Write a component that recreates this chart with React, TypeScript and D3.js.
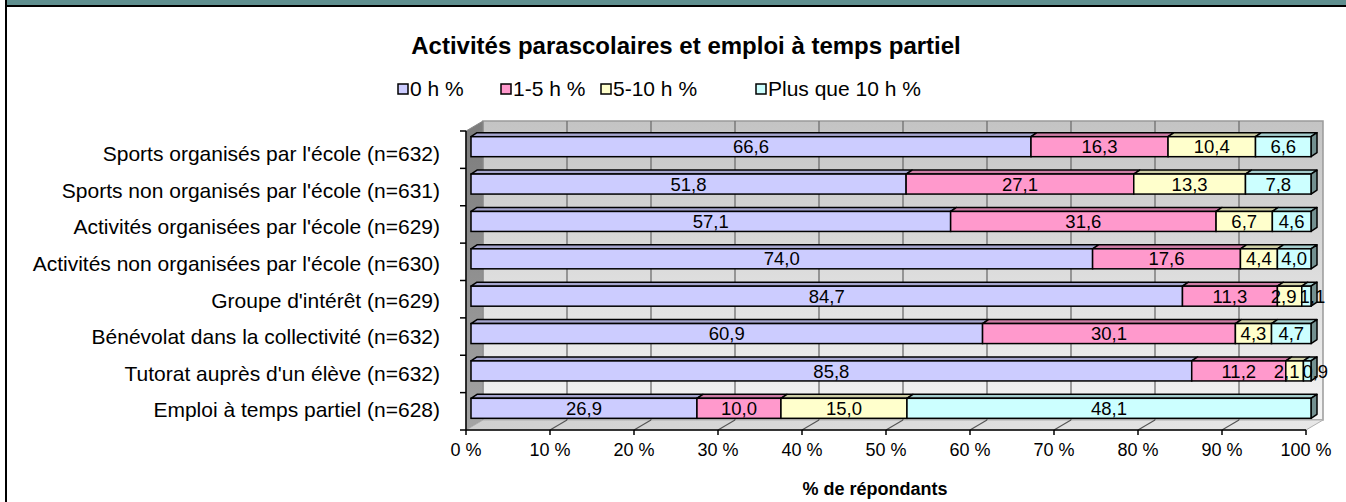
import React from "react";
import * as d3 from "d3";

const categories = [
  "Sports organisés par l'école (n=632)",
  "Sports non organisés par l'école (n=631)",
  "Activités organisées par l'école (n=629)",
  "Activités non organisées par l'école (n=630)",
  "Groupe d'intérêt (n=629)",
  "Bénévolat dans la collectivité (n=632)",
  "Tutorat auprès d'un élève (n=632)",
  "Emploi à temps partiel (n=628)",
];
const seriesNames = ["0 h %", "1-5 h %", "5-10 h %", "Plus que 10 h %"];
const h0 = [66.6, 51.8, 57.1, 74.0, 84.7, 60.9, 85.8, 26.9];
const h1to5 = [16.3, 27.1, 31.6, 17.6, 11.3, 30.1, 11.2, 10.0];
const h5to10 = [10.4, 13.3, 6.7, 4.4, 2.9, 4.3, 2.1, 15.0];
const h10plus = [6.6, 7.8, 4.6, 4.0, 1.1, 4.7, 0.9, 48.1];
const xTicks = [0, 10, 20, 30, 40, 50, 60, 70, 80, 90, 100];

const colors = ["#ccccff", "#ff99cc", "#ffffcc", "#ccffff"];
const legendX = [398, 501, 601, 756];

const W = 1346;
const H = 502;
const FONT = "Arial, 'Liberation Sans', sans-serif";

// 3D geometry
const DEPTH = { dx: 17, dy: -10 };
const BAR_OFF = { dx: 5, dy: -3 };
const BAR_DEPTH = { dx: 6, dy: -4 };
const BAR_H = 20;
const VAL_FS = 18.5;

const fmt = (v: number) => d3.format(".1f")(v).replace(".", ",");
// rough Arial width of a number label
const textW = (s: string) =>
  s.split("").reduce((acc, ch) => acc + (ch === "," ? 0.278 : 0.556), 0) * VAL_FS;

const pts = (p: number[][]) => p.map((q) => q.join(",")).join(" ");

export default function App() {
  const x = d3.scaleLinear().domain([0, 100]).range([466, 1306]);
  const y = d3.scaleBand<string>().domain(categories).range([131, 430]);
  const yLabel = d3.scalePoint<string>().domain(categories).range([154, 410]);
  const top = 131;
  const bottom = 430;

  const rows = categories.map((c, i) => ({
    cat: c,
    [seriesNames[0]]: h0[i],
    [seriesNames[1]]: h1to5[i],
    [seriesNames[2]]: h5to10[i],
    [seriesNames[3]]: h10plus[i],
  }));
  const stacked = d3
    .stack<any>()
    .keys(seriesNames)
    .offset(d3.stackOffsetExpand)(rows);
  const values = [h0, h1to5, h5to10, h10plus];

  const bx = (v: number) => x(v * 100) + BAR_OFF.dx;

  // label positions per row, nudged apart where small segments collide
  const labelPos = categories.map((c, ri) => {
    const items = stacked.map((layer, si) => {
      const [a, b] = layer[ri];
      const s = fmt(values[si][ri]);
      return { s, cx: (bx(a) + bx(b)) / 2, w: textW(s) };
    });
    for (let k = 0; k < 30; k++) {
      for (let i = 0; i < items.length - 1; i++) {
        const p = items[i];
        const q = items[i + 1];
        const ov = p.cx + p.w / 2 + 3 - (q.cx - q.w / 2);
        if (ov > 0) {
          p.cx -= ov / 2;
          q.cx += ov / 2;
        }
      }
    }
    return items;
  });

  return (
    <svg
      width={W}
      height={H}
      style={{ position: "absolute", left: 0, top: 0 }}
      fontFamily={FONT}
    >
      <defs>
        <linearGradient id="wall" x1="0" y1="0" x2="0" y2="1">
          <stop offset="0" stopColor="#c4c4c4" />
          <stop offset="1" stopColor="#f4f4f4" />
        </linearGradient>
        <linearGradient id="side" x1="0" y1="0" x2="0" y2="1">
          <stop offset="0" stopColor="#7c7c7c" />
          <stop offset="1" stopColor="#a4a4a4" />
        </linearGradient>
        <linearGradient id="floor" x1="0" y1="0" x2="1" y2="0">
          <stop offset="0" stopColor="#cfcfcf" />
          <stop offset="1" stopColor="#e8e8e8" />
        </linearGradient>
      </defs>
      <rect x={0} y={0} width={W} height={H} fill="#fff" />
      {/* frame */}
      <rect x={7} y={0} width={W - 7} height={6} fill="#5f8f8f" />
      <line x1={6} y1={0} x2={6} y2={H} stroke="#000" strokeWidth={2} />
      <line x1={6} y1={6} x2={W} y2={6} stroke="#000" strokeWidth={2} />

      {/* title */}
      <text x={686} y={54} textAnchor="middle" fontSize={24} fontWeight="bold">
        Activités parascolaires et emploi à temps partiel
      </text>

      {/* legend */}
      {seriesNames.map((s, i) => (
        <g key={s}>
          <rect
            x={legendX[i]}
            y={84}
            width={10}
            height={10}
            fill={colors[i]}
            stroke="#000"
            strokeWidth={1.5}
          />
          <text x={legendX[i] + 12} y={96} fontSize={21}>
            {s}
          </text>
        </g>
      ))}

      {/* walls */}
      <rect
        x={x(0) + DEPTH.dx}
        y={top + DEPTH.dy}
        width={x(100) - x(0)}
        height={bottom - top}
        fill="url(#wall)"
        stroke="#9a9a9a"
        strokeWidth={1.5}
      />
      <polygon
        points={pts([
          [x(0), top],
          [x(0) + DEPTH.dx, top + DEPTH.dy],
          [x(0) + DEPTH.dx, bottom + DEPTH.dy],
          [x(0), bottom],
        ])}
        fill="url(#side)"
        stroke="#8a8a8a"
        strokeWidth={1}
      />
      <polygon
        points={pts([
          [x(0), bottom],
          [x(100), bottom],
          [x(100) + DEPTH.dx, bottom + DEPTH.dy],
          [x(0) + DEPTH.dx, bottom + DEPTH.dy],
        ])}
        fill="url(#floor)"
        stroke="#b0b0b0"
        strokeWidth={1}
      />
      {/* gridlines */}
      {xTicks.slice(1, -1).map((t) => (
        <g key={t}>
          <line
            x1={x(t) + DEPTH.dx}
            x2={x(t) + DEPTH.dx}
            y1={top + DEPTH.dy}
            y2={bottom + DEPTH.dy}
            stroke="#6e6e6e"
            strokeWidth={1.3}
          />
          <line
            x1={x(t)}
            x2={x(t) + DEPTH.dx}
            y1={bottom}
            y2={bottom + DEPTH.dy}
            stroke="#555"
            strokeWidth={1.2}
          />
        </g>
      ))}

      {/* axes */}
      <line x1={x(0)} x2={x(100)} y1={bottom} y2={bottom} stroke="#000" strokeWidth={1.5} />
      <line x1={x(0)} x2={x(0)} y1={top} y2={bottom} stroke="#000" strokeWidth={1.5} />
      {xTicks.map((t) => (
        <g key={t}>
          <line x1={x(t)} x2={x(t)} y1={bottom} y2={bottom + 5} stroke="#000" strokeWidth={1.5} />
          <text x={x(t)} y={456} textAnchor="middle" fontSize={18}>
            {`${t} %`}
          </text>
        </g>
      ))}
      {categories.map((c) => (
        <line
          key={c}
          x1={x(0) - 6}
          x2={x(0)}
          y1={y(c)!}
          y2={y(c)!}
          stroke="#000"
          strokeWidth={1.5}
        />
      ))}
      <line x1={x(0) - 6} x2={x(0)} y1={bottom} y2={bottom} stroke="#000" strokeWidth={1.5} />

      {/* category labels */}
      {categories.map((c) => (
        <text
          key={c}
          x={440}
          y={yLabel(c)!}
          dy="0.35em"
          textAnchor="end"
          fontSize={21}
        >
          {c}
        </text>
      ))}

      {/* bars */}
      {categories.map((c, ri) => {
        const yf = y(c)! + y.bandwidth() / 2 - BAR_H / 2 + BAR_OFF.dy;
        return (
          <g key={c}>
            {stacked.map((layer, si) => {
              const [a, b] = layer[ri];
              const x0 = bx(a);
              const x1 = bx(b);
              const col = d3.color(colors[si])!;
              const isLast = si === stacked.length - 1;
              return (
                <g key={si}>
                  <polygon
                    points={pts([
                      [x0, yf],
                      [x1, yf],
                      [x1 + BAR_DEPTH.dx, yf + BAR_DEPTH.dy],
                      [x0 + BAR_DEPTH.dx, yf + BAR_DEPTH.dy],
                    ])}
                    fill={col.darker(0.6).formatHex()}
                    stroke="#000"
                    strokeWidth={1.5}
                    strokeLinejoin="round"
                  />
                  {isLast && (
                    <polygon
                      points={pts([
                        [x1, yf],
                        [x1 + BAR_DEPTH.dx, yf + BAR_DEPTH.dy],
                        [x1 + BAR_DEPTH.dx, yf + BAR_DEPTH.dy + BAR_H],
                        [x1, yf + BAR_H],
                      ])}
                      fill={col.darker(1.6).formatHex()}
                      stroke="#000"
                      strokeWidth={1.5}
                      strokeLinejoin="round"
                    />
                  )}
                  <rect
                    x={x0}
                    y={yf}
                    width={x1 - x0}
                    height={BAR_H}
                    fill={colors[si]}
                    stroke="#000"
                    strokeWidth={1.5}
                  />
                </g>
              );
            })}
            {labelPos[ri].map((lp, si) => (
              <text
                key={"t" + si}
                x={lp.cx}
                y={yf + BAR_H / 2}
                dy="0.36em"
                textAnchor="middle"
                fontSize={VAL_FS}
              >
                {lp.s}
              </text>
            ))}
          </g>
        );
      })}

      {/* axis title */}
      <text x={875} y={495} textAnchor="middle" fontSize={18} fontWeight="bold">
        % de répondants
      </text>
    </svg>
  );
}
